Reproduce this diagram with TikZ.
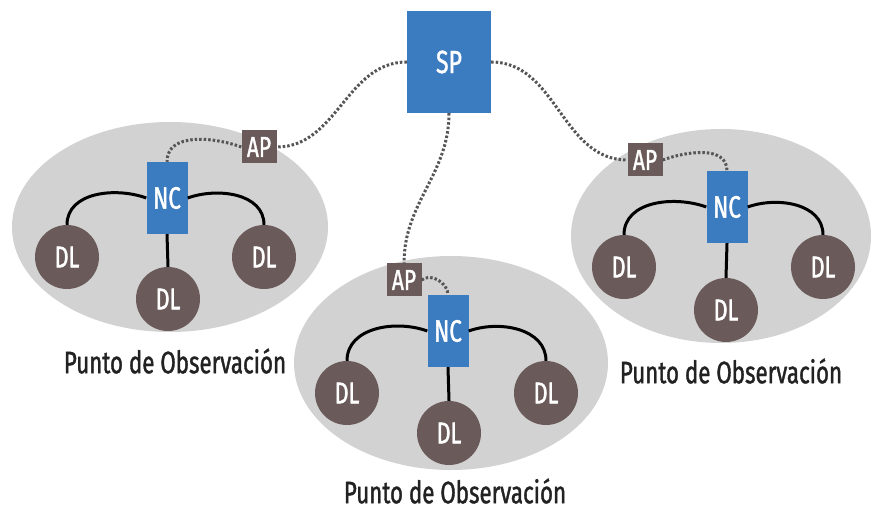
\documentclass[tikz,border=0pt]{standalone}
\usepackage{fontspec}
\setmainfont{Fira Sans}[FakeStretch=0.72, FakeBold=1.2]
\definecolor{ellgray}{HTML}{D2D2D2}
\definecolor{boxblue}{HTML}{3B7BC0}
\definecolor{dlbrown}{HTML}{6B5A5A}
\definecolor{dotgray}{HTML}{555555}
\definecolor{labtext}{HTML}{222222}
\tikzset{
  zone/.style={fill=ellgray, draw=none},
  spbox/.style={fill=boxblue, draw=none, minimum width=84pt, minimum height=102pt, text=white, font=\fontsize{32}{34}\selectfont, inner sep=0pt},
  ncbox/.style={fill=boxblue, draw=none, minimum width=41pt, minimum height=72pt, text=white, font=\fontsize{31}{34}\selectfont, inner sep=0pt},
  apbox/.style={fill=dlbrown, draw=none, minimum width=35pt, minimum height=33pt, text=white, font=\fontsize{29}{30}\selectfont, inner sep=0pt},
  dlnode/.style={circle, fill=dlbrown, draw=none, minimum size=64pt, text=white, font=\fontsize{30}{32}\selectfont, inner sep=0pt},
  obslabel/.style={text=labtext, font=\fontsize{31}{34}\selectfont, inner sep=0pt},
  wire/.style={draw=black, line width=3pt},
  radio/.style={draw=dotgray, line width=3pt, dash pattern=on 2.5pt off 2pt},
}
\begin{document}
\begin{tikzpicture}[x=1pt,y=-1pt]
\useasboundingbox (0,0) rectangle (872,510);
\fill[white] (0,0) rectangle (872,510);
% zones
\fill[zone] (170,227) ellipse [x radius=158, y radius=105];
\fill[zone] (721,236) ellipse [x radius=150, y radius=107];
\fill[zone] (451,363) ellipse [x radius=157, y radius=107];
% nodes
\node[spbox] (sp) at (449,62) {SP};
\node[ncbox] (nc1) at (167,198) {NC};
\node[apbox] (ap1) at (259,147) {AP};
\node[dlnode] (dl1a) at (67,257) {DL};
\node[dlnode] (dl1b) at (168,299) {DL};
\node[dlnode] (dl1c) at (264,257) {DL};
\node[ncbox] (nc2) at (448,331) {NC};
\node[apbox] (ap2) at (404,280) {AP};
\node[dlnode] (dl2a) at (347,393) {DL};
\node[dlnode] (dl2b) at (449,433) {DL};
\node[dlnode] (dl2c) at (546,393) {DL};
\node[ncbox] (nc3) at (727,207) {NC};
\node[apbox] (ap3) at (645,160) {AP};
\node[dlnode] (dl3a) at (624,267) {DL};
\node[dlnode] (dl3b) at (726,310) {DL};
\node[dlnode] (dl3c) at (823,267) {DL};
% labels
\node[obslabel] (lab1) at (175,361) {Punto de Observación};
\node[obslabel] (lab2) at (455,491) {Punto de Observación};
\node[obslabel] (lab3) at (731,371) {Punto de Observación};
% wires
\draw[wire] (nc1.west) to[out=160,in=90] (dl1a.north);
\draw[wire] (nc1.east) to[out=20,in=90] (dl1c.north);
\draw[wire] (nc1.south) -- (dl1b.north);
\draw[wire] (nc2.west) to[out=160,in=90] (dl2a.north);
\draw[wire] (nc2.east) to[out=20,in=90] (dl2c.north);
\draw[wire] (nc2.south) -- (dl2b.north);
\draw[wire] (nc3.west) to[out=160,in=90] (dl3a.north);
\draw[wire] (nc3.east) to[out=20,in=90] (dl3c.north);
\draw[wire] (nc3.south) -- (dl3b.north);
% radio links
\draw[radio] (sp.west) to[out=180,in=0] (ap1.east);
\draw[radio] (ap1.west) to[out=160,in=90] (nc1.north);
\draw[radio] (sp.south) to[out=-90,in=90] (ap2.north);
\draw[radio] (ap2.east) to[out=40,in=90] (nc2.north);
\draw[radio] (sp.east) to[out=0,in=180] (ap3.west);
\draw[radio] (ap3.east) to[out=20,in=90] (nc3.north);
\end{tikzpicture}
\end{document}
